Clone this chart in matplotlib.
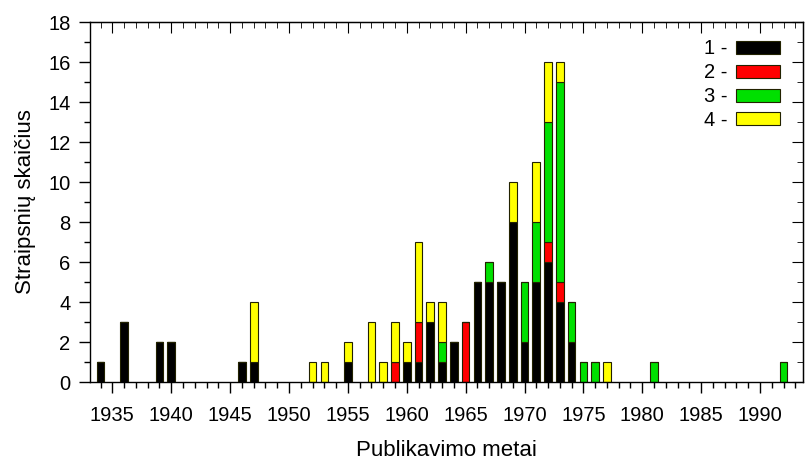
import numpy as np
import matplotlib
matplotlib.use('Agg')
import matplotlib.pyplot as plt
from matplotlib.ticker import MultipleLocator

plt.rcParams['font.family'] = ['Liberation Sans', 'DejaVu Sans']

years = [1934, 1936, 1939, 1940, 1946, 1947, 1952, 1953, 1955, 1957, 1958, 1959,
         1960, 1961, 1962, 1963, 1964, 1965, 1966, 1967, 1968, 1969, 1970, 1971,
         1972, 1973, 1974, 1975, 1976, 1977, 1981, 1992]
# 1 - black, 2 - red, 3 - green, 4 - yellow
s1 = [1, 3, 2, 2, 1, 1, 0, 0, 1, 0, 0, 0,
      1, 1, 3, 1, 2, 0, 5, 5, 5, 8, 2, 5,
      6, 4, 2, 0, 0, 0, 0, 0]
s2 = [0, 0, 0, 0, 0, 0, 0, 0, 0, 0, 0, 1,
      0, 2, 0, 0, 0, 3, 0, 0, 0, 0, 0, 0,
      1, 1, 0, 0, 0, 0, 0, 0]
s3 = [0, 0, 0, 0, 0, 0, 0, 0, 0, 0, 0, 0,
      0, 0, 0, 1, 0, 0, 0, 1, 0, 0, 3, 3,
      6, 10, 2, 1, 1, 0, 1, 1]
s4 = [0, 0, 0, 0, 0, 3, 1, 1, 1, 3, 1, 2,
      1, 4, 1, 2, 0, 0, 0, 0, 0, 2, 0, 3,
      3, 1, 0, 0, 0, 1, 0, 0]
series = [s1, s2, s3, s4]
labels = ['1 -', '2 -', '3 -', '4 -']
colors = ['#000000', '#ff0000', '#00e000', '#ffff00']

fig = plt.figure(figsize=(8.06, 4.62), dpi=100)
ax = fig.add_axes([90 / 806, 80 / 462, 713 / 806, 360 / 462])

bottom = np.zeros(len(years))
for vals, lab, col in zip(series, labels, colors):
    vals = np.array(vals, dtype=float)
    ax.bar(years, vals, width=0.65, bottom=bottom, color=col,
           edgecolor='#222200', linewidth=0.8, label=lab)
    bottom += vals

ax.set_xlim(1933.1, 1993.65)
ax.set_ylim(0, 18)
ax.xaxis.set_minor_locator(MultipleLocator(1))
ax.yaxis.set_major_locator(MultipleLocator(2))
ax.yaxis.set_minor_locator(MultipleLocator(1))
ax.set_xticks(range(1935, 1991, 5))
ax.tick_params(which='major', direction='out', length=8, width=1, labelsize=14.5)
ax.tick_params(axis='x', which='major', pad=9)
ax.tick_params(axis='y', which='major', pad=6)
ax.tick_params(which='minor', direction='out', length=4, width=1)

# top and right axes with inward ticks
top = ax.secondary_xaxis('top')
top.xaxis.set_major_locator(MultipleLocator(5))
top.xaxis.set_minor_locator(MultipleLocator(1))
top.tick_params(which='major', direction='in', length=8, labeltop=False)
top.tick_params(which='minor', direction='in', length=4)
right = ax.secondary_yaxis('right')
right.yaxis.set_major_locator(MultipleLocator(2))
right.yaxis.set_minor_locator(MultipleLocator(1))
right.tick_params(which='major', direction='in', length=8, labelright=False)
right.tick_params(which='minor', direction='in', length=4)

for sp in ax.spines.values():
    sp.set_linewidth(1)

ax.set_xlabel('Publikavimo metai', fontsize=16, labelpad=11)
ax.set_ylabel('Straipsnių skaičius', fontsize=16, labelpad=9)

ax.legend(loc='upper right', bbox_to_anchor=(0.985, 0.985), frameon=False,
          markerfirst=False, fontsize=14.5, handlelength=2.2,
          handleheight=0.61, labelspacing=0.24, handletextpad=0.4,
          borderaxespad=0.2)

fig.savefig('out.png', dpi=100)
